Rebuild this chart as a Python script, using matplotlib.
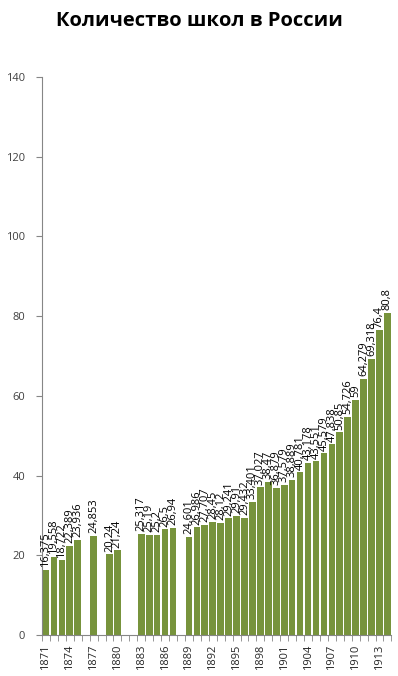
import numpy as np
import matplotlib
matplotlib.use('Agg')
import matplotlib.pyplot as plt
from matplotlib.ticker import MultipleLocator

plt.rcParams['font.family'] = ['Open Sans', 'DejaVu Sans']

# years with data (1876, 1878, 1881, 1882, 1888 are missing)
years = [1871, 1872, 1873, 1874, 1875, 1877, 1879, 1880,
         1883, 1884, 1885, 1886, 1887,
         1889, 1890, 1891, 1892, 1893, 1894, 1895, 1896, 1897, 1898,
         1899, 1900, 1901, 1902, 1903, 1904, 1905, 1906, 1907, 1908,
         1909, 1910, 1911, 1912, 1913, 1914]
schools = [16.375, 19.558, 18.722, 22.389, 23.936, 24.853, 20.24, 21.24,
           25.317, 25.19, 25.2, 26.5, 26.94,
           24.601, 26.986, 27.707, 28.45, 28.12, 29.241, 29.91, 29.432, 33.401, 37.027,
           38.47, 36.879, 37.579, 38.889, 40.781, 43.178, 43.551, 45.579, 47.838, 50.85,
           54.726, 59, 64.279, 69.318, 76.4, 80.8]
tick_years = list(range(1871, 1915, 3))

bar_color = '#77933C'
axis_color = '#868686'
text_color = '#404040'

fig = plt.figure(figsize=(3.98, 6.76), dpi=100)
ax = fig.add_axes([0.1055, 0.0607, 0.878, 0.8254])

ax.bar(years, schools, width=0.84, color=bar_color, zorder=2)

for x, v in zip(years, schools):
    lab = ('%g' % v).replace('.', ',')
    ax.annotate(lab, (x, v), xytext=(0, 2), textcoords='offset points',
                rotation=90, ha='center', va='bottom', fontsize=8, color='black')

ax.set_xlim(1870.5, 1914.5)
ax.set_ylim(0, 140)
ax.yaxis.set_major_locator(MultipleLocator(20))

ax.set_xticks(tick_years)
ax.set_xticklabels([str(y) for y in tick_years], rotation=90, fontsize=8, color='#262626')
ax.set_xticks(np.arange(1870.5, 1915, 1), minor=True)
ax.tick_params(axis='x', which='major', length=0, pad=7)
ax.tick_params(axis='x', which='minor', length=4, color=axis_color)
ax.tick_params(axis='y', length=4, color=axis_color, labelsize=8, labelcolor=text_color, pad=8)

for s in ['top', 'right']:
    ax.spines[s].set_visible(False)
for s in ['left', 'bottom']:
    ax.spines[s].set_color(axis_color)

fig.text(0.5, 0.969, 'Количество школ в России', ha='center', va='center',
         fontsize=14.5, fontweight='bold')

plt.savefig('out.png', dpi=100)
